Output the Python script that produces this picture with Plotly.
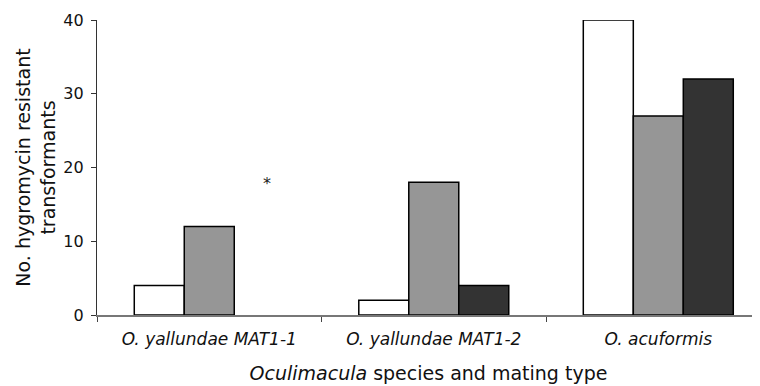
import plotly.graph_objects as go

categories = ["O. yallundae MAT1-1", "O. yallundae MAT1-2", "O. acuformis"]
series_names = ["Series 1", "Series 2", "Series 3"]
values_1 = [4, 2, 40]
values_2 = [12, 18, 27]
values_3 = [0, 4, 32]
y_ticks = [0, 10, 20, 30, 40]

FONT = "DejaVu Sans"
colors = ["#ffffff", "#969696", "#333333"]

fig = go.Figure()
for name, vals, col in zip(series_names, [values_1, values_2, values_3], colors):
    fig.add_trace(go.Bar(
        x=categories, y=vals, name=name,
        marker=dict(color=col,
                    line=dict(color="#000000",
                              width=[0 if v == 0 else 1.5 for v in vals])),
    ))

fig.add_annotation(
    x=0.257, y=17.8, xref="x", yref="y", text="*", showarrow=False,
    font=dict(family=FONT, size=16, color="#222"),
    xanchor="center", yanchor="middle",
)

# the page body adds an 8px offset, so the figure is sized to fit the window
fig.update_layout(
    width=752, height=378,
    margin=dict(l=89, r=0, t=12, b=71),
    paper_bgcolor="white", plot_bgcolor="white",
    barmode="group", bargap=0.332, bargroupgap=0,
    showlegend=False,
    font=dict(family=FONT, color="#111"),
)
fig.update_xaxes(
    type="category", range=[-0.5, 2.453], automargin=True,
    showline=True, linecolor="#777", linewidth=1.5,
    ticks="outside", tickson="boundaries", ticklen=5, tickcolor="#444",
    ticklabelstandoff=8,
    tickfont=dict(family=FONT, size=17, style="italic", color="#111"),
    showgrid=False, zeroline=False,
    title=dict(text="<i>Oculimacula</i> species and mating type",
               font=dict(family=FONT, size=19, color="#111"), standoff=19),
)
fig.update_yaxes(
    range=[0, 40], tickvals=y_ticks, automargin=True,
    showline=True, linecolor="#333", linewidth=1.2,
    ticks="outside", ticklen=5, tickcolor="#333",
    ticklabelstandoff=4,
    tickfont=dict(family=FONT, size=16, color="#111"),
    showgrid=False, zeroline=False,
    title=dict(text="No. hygromycin resistant<br>transformants",
               font=dict(family=FONT, size=19, color="#111"), standoff=2),
)

fig.write_html("out.html")
